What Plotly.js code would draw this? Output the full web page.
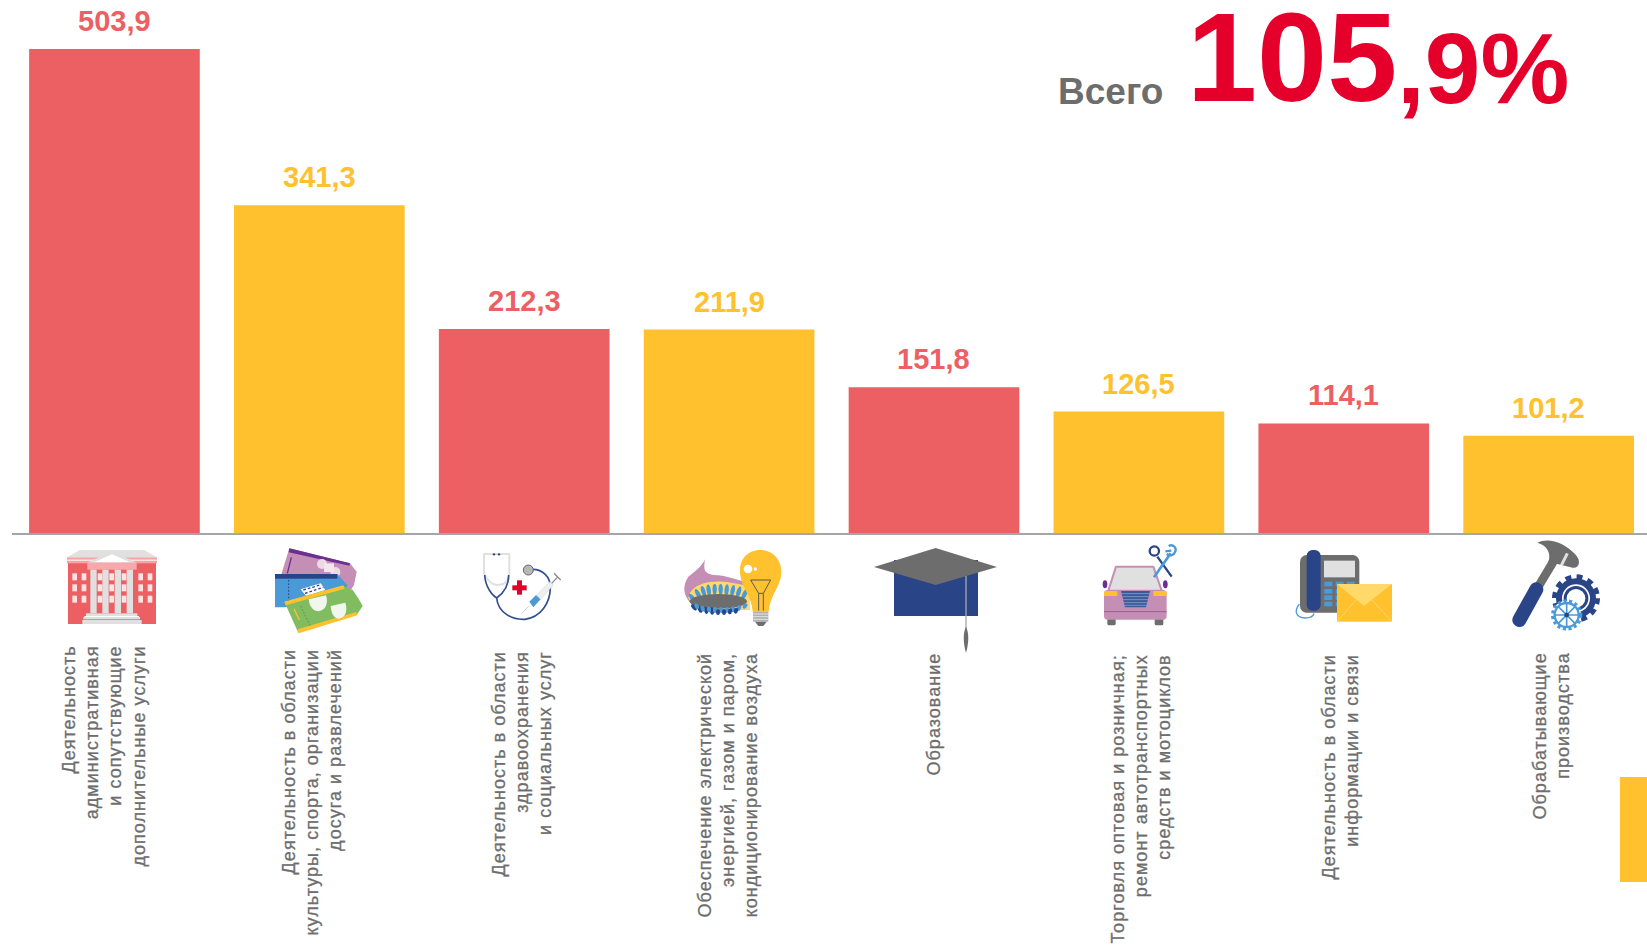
<!DOCTYPE html>
<html><head><meta charset="utf-8">
<script src="https://cdn.plot.ly/plotly-3.0.1.min.js"></script>
<style>html,body{margin:0;padding:0;background:#fff;overflow:hidden}#c{width:1647px;height:945px}
.annotation-text[style*="font-size: 18px"]{letter-spacing:1.03px;stroke:#6D6D6D;stroke-width:.3px}</style>
</head><body><div id="c"></div>
<script>
const categories = [
 "Деятельность<br>административная<br>и сопутствующие<br>дополнительные услуги",
 "Деятельность в области<br>культуры, спорта, организации<br>досуга и развлечений",
 "Деятельность в области<br>здравоохранения<br>и социальных услуг",
 "Обеспечение электрической<br>энергией, газом и паром,<br>кондиционирование воздуха",
 "Образование",
 "Торговля оптовая и розничная;<br>ремонт автотранспортных<br>средств и мотоциклов",
 "Деятельность в области<br>информации и связи",
 "Обрабатывающие<br>производства"
];
const values = [503.9, 341.3, 212.3, 211.9, 151.8, 126.5, 114.1, 101.2];
const RED = "#EC5F63", YEL = "#FFC12D", GRAY = "#6D6D6D", BLUE = "#2A4488", SKY = "#4A9AD8", PINK = "#C58FB5", LG = "#E0E0E0", PURP = "#6B2F92";
const barColors = [RED, YEL, RED, YEL, RED, YEL, RED, YEL];
const labelCenterPx = [104, 312, 522, 728, 933, 1141, 1340, 1551];
const labelTopPx = [644, 647, 650, 651, 651, 653, 653, 651];

const L = 12, W = 1635, B = 533;
const px = x => (x - L) / W, py = y => (B - y) / B;

function ell(list, rx, ry, fill, rot) {
  return list.map(p => `<ellipse cx="${p[0]}" cy="${p[1]}" rx="${rx}" ry="${ry}" fill="${fill}" transform="rotate(${p[2]||0} ${p[0]} ${p[1]})"/>`).join("");
}
function rects(xs, ys, w, h, fill) {
  return xs.map(x => ys.map(y => `<rect x="${x}" y="${y}" width="${w}" height="${h}" fill="${fill}"/>`).join("")).join("");
}
// icon artwork, drawn in 3x units of its own box
const iconA = `
<rect x="54" y="95" width="264" height="187" fill="${RED}"/>
<polygon points="51,82 90,60 282,60 321,82" fill="${LG}"/>
<rect x="51" y="82" width="270" height="18" fill="#F5A3A5"/><rect x="51" y="89" width="270" height="3" fill="#fff"/>
${rects([67,95,143,178,215,265,293],[130,163,197],14,21,"#FBE3E3")}
<polygon points="112,98 186,64 260,98" fill="${LG}"/><polygon points="132,97 186,73 240,97" fill="#fff"/>
<rect x="112" y="98" width="148" height="21" fill="#F5A9AB"/>
${rects([121,157,194,230],[119],19,131,LG)}
<rect x="108" y="250" width="154" height="8" fill="${LG}"/><rect x="103" y="258" width="164" height="3" fill="#fff"/><rect x="100" y="261" width="170" height="7" fill="${LG}"/><rect x="97" y="270" width="178" height="12" fill="${LG}"/>
<polygon points="718,55 900,100 920,125 912,165 890,200 700,180 695,130" fill="${PINK}"/>
<polygon points="718,55 900,100 898,107 716,67" fill="${PURP}"/>
<path d="M724,82 L712,130" stroke="${PURP}" stroke-width="4" fill="none"/>
<circle cx="816" cy="102" r="15" fill="#EBD9E6"/><circle cx="856" cy="126" r="15" fill="#EBD9E6"/><rect x="822" y="100" width="30" height="26" fill="#F3E6EF"/>
<polygon points="675,132 862,132 892,165 880,205 704,232 675,232" fill="${SKY}"/>
<rect x="675" y="132" width="187" height="14" fill="${BLUE}"/>
<path d="M716,150 L716,225" stroke="${BLUE}" stroke-width="3" stroke-dasharray="5 5"/>
<polygon points="752,178 812,160 826,180 768,198" fill="#fff"/><path d="M760,180 L810,165 M765,190 L820,172" stroke="${BLUE}" stroke-width="4" stroke-dasharray="8 6"/>
<polygon points="703,215 880,168 908,180 925,205 938,228 920,255 745,308" fill="#82BC60"/>
<polygon points="703,215 880,166 884,176 707,226" fill="${YEL}"/><polygon points="743,298 919,246 922,256 746,310" fill="${YEL}"/>
<path d="M732,236 L748,270" stroke="${YEL}" stroke-width="4"/><path d="M752,228 L780,286" stroke="#4C8A56" stroke-width="2.5" stroke-dasharray="5 5"/>
<path d="M776,208 L828,196 C836,222 826,240 806,244 C790,244 778,230 776,208Z" fill="#F1F7EC"/>
<path d="M842,228 L886,218 C894,244 886,262 866,266 C850,264 844,250 842,228Z" fill="#F1F7EC"/>`;

const iconB = `
<path d="M118,130 L118,72 L42,72 L42,130 Q60,165 80,165 Q118,165 118,130" stroke="${LG}" stroke-width="6" fill="none" stroke-linejoin="round"/>
<path d="M44,135 C46,170 66,196 80,204 C100,190 116,165 116,135 M80,204 C84,248 126,270 165,268 C212,262 241,220 241,172 C241,140 218,118 188,118" stroke="#2F4E92" stroke-width="5" fill="none"/>
<circle cx="72" cy="73" r="3.5" fill="${BLUE}"/><circle cx="87" cy="73" r="3.5" fill="${BLUE}"/>
<circle cx="175" cy="120" r="15" fill="#B7B7B7" stroke="#666" stroke-width="3"/>
<rect x="141" y="151" width="15" height="43" fill="#E4002B"/><rect x="127" y="166" width="43" height="15" fill="#E4002B"/>
<path d="M155,250 L178,227" stroke="#D2D2D2" stroke-width="3"/>
<path d="M178,215 L190,232 L212,208 L198,195Z" fill="${SKY}"/><path d="M200,195 L240,155 L250,165 L212,208Z" fill="#EFEFEF" stroke="#CFCFCF" stroke-width="1.5"/>
<path d="M245,160 L262,142 M252,130 L272,150" stroke="#8B8B8B" stroke-width="4" fill="none"/>
<path d="M705,88 C700,120 702,130 730,135 C770,135 795,150 830,155 L830,240 L670,228 C640,200 635,170 655,140 C675,125 695,110 705,88Z" fill="${PINK}"/>
<path d="M655,205 C660,170 700,158 722,156 C762,150 800,160 840,170 L840,240 L680,235Z" fill="#FFDA6B"/>
${ell([[668,205,-40],[684,192,-28],[700,184,-18],[716,180,-8],[734,178,0],[752,178,0],[770,180,6],[788,182,12],[806,186,18],[824,192,26]],6.5,17,SKY)}
<ellipse cx="745" cy="214" rx="86" ry="22" fill="${GRAY}"/>
${ell([[672,232,-40],[690,238,-25],[708,241,-14],[726,243,-6]],6,11,BLUE)}
${ell([[680,229,-30],[698,236,-20],[717,238,-10],[735,240,0],[753,240,0],[771,240,6],[789,238,14],[807,234,22],[825,228,32]],6,9,SKY)}
${ell([[744,246,0],[762,246,0],[780,244,8],[798,242,16]],6,9,BLUE)}
<path d="M870,60 C910,60 936,92 934,130 C932,170 900,195 896,245 L848,245 C846,200 815,175 810,130 C806,90 832,60 870,60Z" fill="${YEL}"/>
<circle cx="834" cy="117" r="13" fill="#fff"/><circle cx="856" cy="117" r="5" fill="#fff"/>
<path d="M842,150 L902,150 L880,190 L880,242 M842,150 L866,190 L866,242 M866,190 L880,190" stroke="#59595B" stroke-width="3" fill="none"/>
<rect x="849" y="245" width="46" height="30" fill="#B0B0B0"/><path d="M849,252 H895 M849,260 H895 M849,268 H895" stroke="#EEE" stroke-width="2.5"/>
<polygon points="855,275 890,275 880,288 865,288" fill="${GRAY}"/>`;

const iconCap = `
<rect x="102" y="90" width="252" height="168" fill="${BLUE}"/>
<polygon points="42,111 227,54 411,111 227,165" fill="${GRAY}"/>
<path d="M318,138 L318,300" stroke="#A8A8A8" stroke-width="4"/>
<path d="M318,290 C328,310 326,340 318,369 C310,340 308,310 318,290Z" fill="${GRAY}"/>`;

const iconC = `
<polygon points="55,182 78,110 190,110 215,182" fill="${LG}" stroke="${PINK}" stroke-width="6" stroke-linejoin="round"/>
<ellipse cx="45" cy="163" rx="7" ry="12" fill="${PURP}"/><ellipse cx="226" cy="163" rx="7" ry="12" fill="${PURP}"/>
<rect x="52" y="262" width="25" height="24" rx="5" fill="${GRAY}"/><rect x="194" y="262" width="26" height="24" rx="5" fill="${GRAY}"/>
<rect x="42" y="180" width="188" height="89" rx="11" fill="${PINK}"/>
<rect x="42" y="183" width="40" height="15" rx="3" fill="${YEL}"/><rect x="190" y="183" width="40" height="15" rx="3" fill="${YEL}"/>
<polygon points="93,183 180,183 168,232 105,232" fill="#3A5A9C"/>
<path d="M94,191 H178 M97,200 H176 M99,209 H174 M101,218 H172 M103,226 H170" stroke="#9FB0D2" stroke-width="2"/>
<path d="M42,245 H230" stroke="#9A5F92" stroke-width="3"/>
<path d="M245,140 L202,80" stroke="${BLUE}" stroke-width="7"/><circle cx="193" cy="63" r="14" fill="none" stroke="${BLUE}" stroke-width="7"/>
<path d="M192,142 L242,70" stroke="${SKY}" stroke-width="8"/><path d="M236,48 C250,40 260,55 256,64 C252,76 240,80 230,72 M226,64 L244,62" stroke="${SKY}" stroke-width="7" fill="none"/>
<path d="M628,222 C610,245 620,263 645,264 C660,264 670,258 672,250" stroke="${SKY}" stroke-width="4" fill="none"/>
<rect x="630" y="75" width="178" height="173" rx="20" fill="${GRAY}"/>
<rect x="650" y="60" width="42" height="182" rx="17" fill="${BLUE}"/>
<rect x="702" y="92" width="93" height="50" fill="${LG}"/>
${rects([703,737,770],[155,177,196,215],24,14,SKY)}
<rect x="741" y="162" width="165" height="113" fill="${YEL}"/>
<polygon points="741,162 906,162 822,228" fill="#FFDA6B"/>
<path d="M741,275 L798,210 M906,275 L846,210" stroke="#FFE08A" stroke-width="2" fill="none"/>`;

const iconD = `
<path d="M172,38 C205,22 250,35 285,72 C305,92 298,116 278,113 L205,95 C215,70 200,45 172,38Z" fill="${GRAY}"/>
<path d="M262,70 L244,106" stroke="${LG}" stroke-width="9"/>
<path d="M226,85 L176,168" stroke="${GRAY}" stroke-width="26"/>
<path d="M169,178 L118,270" stroke="${BLUE}" stroke-width="42" stroke-linecap="round"/>
<circle cx="288" cy="205" r="64" fill="none" stroke="${BLUE}" stroke-width="16" stroke-dasharray="17.5 16"/>
<circle cx="288" cy="205" r="60" fill="${BLUE}"/><circle cx="288" cy="205" r="42" fill="#fff"/><circle cx="288" cy="205" r="37" fill="${BLUE}"/><circle cx="288" cy="205" r="28" fill="#fff"/>
<circle cx="260" cy="255" r="43" fill="#fff"/>
<circle cx="260" cy="255" r="42" fill="none" stroke="${SKY}" stroke-width="10" stroke-dasharray="9 8"/>
<circle cx="260" cy="255" r="36" fill="none" stroke="${SKY}" stroke-width="7"/>
<path d="M260,220 V290 M225,255 H295 M235,230 L285,280 M285,230 L235,280" stroke="${SKY}" stroke-width="5"/>
<circle cx="260" cy="255" r="7" fill="${BLUE}"/>`;

function svgUri(w, h, body) {
  const s = `<svg xmlns="http://www.w3.org/2000/svg" width="${w}" height="${h}" viewBox="0 0 ${w*3} ${h*3}">${body}</svg>`;
  return "data:image/svg+xml;charset=utf-8," + encodeURIComponent(s);
}
function icon(x, y, w, h, body) {
  return {source: svgUri(w, h, body), xref: "paper", yref: "paper", x: px(x), y: py(y),
          sizex: w / W, sizey: h / B, sizing: "stretch", xanchor: "left", yanchor: "top", layer: "above"};
}
const images = [
  icon(50, 530, 320, 110, iconA),
  icon(470, 530, 320, 110, iconB),
  icon(860, 530, 150, 130, iconCap),
  icon(1090, 530, 320, 110, iconC),
  icon(1480, 530, 160, 110, iconD)
];

const FONT = "Liberation Sans, Arial, sans-serif";
const annotations = [];
categories.forEach((c, i) => {
  annotations.push({xref: "x", yref: "y", x: c, y: values[i], yanchor: "bottom", xanchor: "center", yshift: 10, showarrow: false,
    text: "<b>" + values[i].toFixed(1).replace(".", ",") + "</b>",
    font: {family: FONT, size: 29, color: barColors[i]}});
  annotations.push({xref: "paper", yref: "paper", x: px(labelCenterPx[i]), y: py(labelTopPx[i]), xanchor: "center", yanchor: "top",
    showarrow: false, textangle: -90, align: "right", text: c,
    font: {family: FONT, size: 18, color: GRAY}});
});
annotations.push({xref: "paper", yref: "paper", x: px(1056), y: py(114), xanchor: "left", yanchor: "bottom", showarrow: false,
  text: "<b>Всего</b>", font: {family: FONT, size: 37, color: GRAY}});
annotations.push({xref: "paper", yref: "paper", x: px(1185), y: py(130), xanchor: "left", yanchor: "bottom", showarrow: false,
  text: "<b>105</b>", font: {family: FONT, size: 126, color: "#E4002B"}});
annotations.push({xref: "paper", yref: "paper", x: px(1395), y: py(126), xanchor: "left", yanchor: "bottom", showarrow: false,
  text: "<b>,9%</b>", font: {family: FONT, size: 100, color: "#E4002B"}});

const trace = {type: "bar", x: categories, y: values, marker: {color: barColors}, hoverinfo: "y", cliponaxis: false};
const layout = {
  width: 1647, height: 945, margin: {l: L, r: 0, t: 0, b: 945 - B, pad: 0},
  paper_bgcolor: "#fff", plot_bgcolor: "#fff", showlegend: false, bargap: 0.167,
  xaxis: {type: "category", range: [-0.5, 7.48], showticklabels: false, ticks: "", showgrid: false, zeroline: false,
          showline: true, linecolor: "#A6A6A6", linewidth: 2},
  yaxis: {range: [0, 555], visible: false, showgrid: false, zeroline: false},
  shapes: [{type: "rect", xref: "paper", yref: "paper", x0: px(1620), x1: px(1647), y0: py(777), y1: py(882), fillcolor: YEL, line: {width: 0}}],
  images, annotations
};
Plotly.newPlot("c", [trace], layout, {displayModeBar: false, responsive: false});
</script></body></html>
